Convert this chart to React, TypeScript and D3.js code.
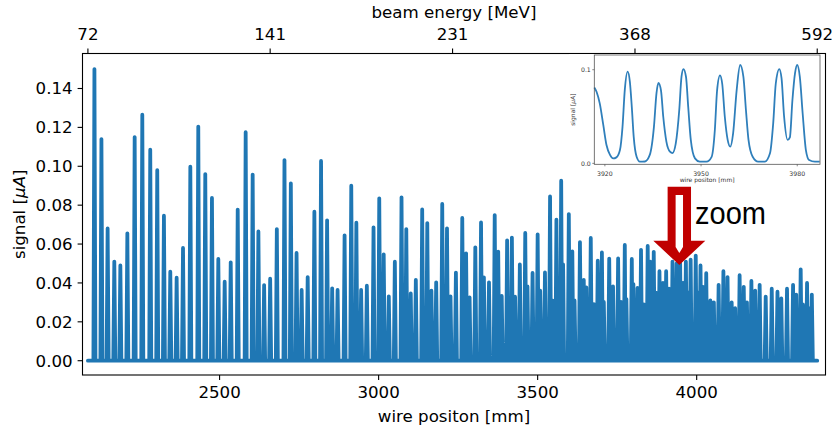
import React from 'react';
import * as d3 from 'd3';

// ---------- main chart data (wire position in mm, signal in µA) ----------
const peakPos = [
  2106.5, 2128.5, 2148, 2169, 2188, 2210, 2233, 2257, 2282, 2304, 2325, 2345, 2365, 2385, 2408, 2433, 2455, 2476, 2496, 2516,
  2535, 2557, 2582, 2604, 2622, 2640, 2659, 2680, 2704, 2724, 2742, 2758, 2777, 2798, 2819, 2838, 2854, 2871, 2893, 2914,
  2930, 2945, 2963, 2984, 3002, 3016, 3032, 3051, 3072, 3087, 3101, 3117, 3137, 3153, 3166, 3181, 3200, 3215, 3226, 3243,
  3263, 3275, 3286, 3304, 3322, 3331, 3347, 3365, 3376, 3387, 3404, 3419, 3429, 3444, 3461, 3468, 3484, 3500, 3508, 3523,
  3539, 3548, 3559, 3574, 3580, 3598, 3609, 3616, 3633, 3645, 3653, 3667, 3677, 3689, 3702, 3708, 3725, 3737, 3753, 3762,
  3774, 3779, 3796, 3801, 3814, 3825, 3834, 3846, 3854, 3865, 3872, 3883, 3894, 3904, 3913, 3924, 3937, 3948, 3957, 3966,
  3973, 3981, 3997, 4004, 4012, 4020, 4030, 4043, 4054, 4069, 4084, 4097, 4110, 4121, 4135, 4148, 4158, 4172, 4184, 4198,
  4217, 4236, 4254, 4266, 4284, 4303, 4313, 4327, 4334, 4347, 4357, 4362,
];
const peakSignal = [
  0.150, 0.114, 0.068, 0.051, 0.049, 0.0655, 0.115, 0.1265, 0.1085, 0.098, 0.0746, 0.0458, 0.0427, 0.058, 0.0998, 0.1204, 0.096, 0.0837, 0.0523, 0.0406,
  0.0506, 0.0777, 0.1175, 0.0957, 0.0665, 0.0389, 0.0422, 0.0677, 0.1032, 0.0912, 0.0554, 0.0364, 0.043, 0.0766, 0.1027, 0.0722, 0.0372, 0.0364, 0.0645, 0.090,
  0.071, 0.0364, 0.0386, 0.0686, 0.0835, 0.0547, 0.0331, 0.0509, 0.084, 0.0677, 0.0346, 0.0415, 0.0778, 0.0708, 0.036, 0.0403, 0.0806, 0.0681, 0.0331, 0.0453,
  0.0734, 0.0552, 0.0326, 0.0583, 0.0711, 0.0429, 0.0403, 0.0749, 0.0561, 0.0333, 0.0619, 0.0633, 0.0329, 0.0495, 0.0657, 0.0382, 0.0451, 0.065, 0.036, 0.0454,
  0.0845, 0.0309, 0.0725, 0.0926, 0.0495, 0.0754, 0.0562, 0.031, 0.061, 0.0415, 0.0377, 0.0631, 0.0291, 0.0514, 0.0557, 0.0302, 0.0525, 0.0382, 0.0526, 0.0302,
  0.0595, 0.0317, 0.0523, 0.0394, 0.0374, 0.057, 0.029, 0.059, 0.051, 0.056, 0.035, 0.046, 0.040, 0.046, 0.037, 0.051, 0.050, 0.050, 0.040, 0.051,
  0.035, 0.052, 0.054, 0.035, 0.049, 0.038, 0.045, 0.031, 0.030, 0.039, 0.046, 0.043, 0.030, 0.027, 0.044, 0.038, 0.030, 0.041, 0.036, 0.039,
  0.033, 0.037, 0.0355, 0.032, 0.037, 0.039, 0.034, 0.047, 0.029, 0.040, 0.027, 0.034,
];
const scanStart = 2086;
const scanEnd = 4379;

const xTicks = [2500, 3000, 3500, 4000];
const yTicks = [0, 0.02, 0.04, 0.06, 0.08, 0.1, 0.12, 0.14];
const topTickPos = [2086, 2659, 3232.5, 3806, 4379];
const topTickLabels = ['72', '141', '231', '368', '592'];

// ---------- inset data ----------
const insetPos = [
  3916.7, 3917.4, 3918.4, 3919.5, 3920.5, 3921.6, 3922.6, 3923.6, 3924.7, 3925.5, 3926.2, 3927.1, 3927.8, 3928.4, 3929.0,
  3929.9, 3930.9, 3932.5, 3934.0, 3935.3, 3936.1, 3936.7, 3937.5, 3938.2, 3939.2, 3940.3, 3941.1, 3942.1, 3943.2, 3943.9,
  3944.5, 3945.3, 3946.0, 3946.8, 3948.1, 3949.6, 3951.7, 3953.3, 3954.3, 3955.0, 3955.9, 3956.6, 3957.4, 3958.3, 3959.1,
  3960.0, 3961.1, 3962.2, 3963.2, 3964.0, 3964.8, 3966.1, 3967.8, 3969.9, 3971.5, 3972.5, 3973.3, 3974.4, 3975.1, 3975.9,
  3977.0, 3977.7, 3978.5, 3979.3, 3980.0, 3980.8, 3981.7, 3982.7, 3983.7, 3985.5, 3987.0,
];
const insetSignal = [
  0.081, 0.0765, 0.064, 0.041, 0.0196, 0.009, 0.0053, 0.0064, 0.0142, 0.039, 0.078, 0.098, 0.087, 0.060, 0.028,
  0.007, 0.0018, 0.002, 0.009, 0.039, 0.075, 0.086, 0.078, 0.050, 0.023, 0.0125, 0.011, 0.021, 0.057, 0.0925,
  0.1007, 0.0925, 0.060, 0.025, 0.0053, 0.0018, 0.0018, 0.007, 0.0356, 0.078, 0.094, 0.085, 0.050, 0.025, 0.0178,
  0.032, 0.078, 0.105, 0.0925, 0.057, 0.025, 0.007, 0.0018, 0.0018, 0.0107, 0.0427, 0.085, 0.1007, 0.091, 0.050,
  0.025, 0.0278, 0.0676, 0.096, 0.105, 0.0925, 0.053, 0.0142, 0.0036, 0.0018, 0.0018,
];
const insetXTicks = [3920, 3950, 3980];
const insetYTicks = [0, 0.1];

// annotation anchor (data coords)
const arrowTip = { pos: 3945.4, signal: 0.0492 };

const W = 832;
const H = 427;
const FONT = 'DejaVu Sans, sans-serif';
const FS = 16.67;
const BLUE = '#1f77b4';

export default function App() {
  const box = { left: 82.5, right: 825.5, top: 53.5, bottom: 375 };
  const x = d3.scaleLinear().domain([2069, 4405]).range([box.left, box.right]);
  const y = d3.scaleLinear().domain([-0.00735, 0.158]).range([box.bottom, box.top]);

  // build spike polyline from peaks
  const FOOT = 3.2;
  const pts: [number, number][] = [[scanStart, 0]];
  peakPos.forEach((p, i) => {
    const prev = i > 0 ? peakPos[i - 1] : scanStart;
    const next = i < peakPos.length - 1 ? peakPos[i + 1] : scanEnd;
    const l = Math.min(FOOT, (p - prev) / 2);
    const r = Math.min(FOOT, (next - p) / 2);
    pts.push([p - l, 0], [p, peakSignal[i]], [p + r, 0]);
  });
  pts.push([scanEnd, 0]);
  const line = d3.line<[number, number]>().x((d) => x(d[0])).y((d) => y(d[1]));

  // inset
  const ib = { left: 594.3, right: 820, top: 55, bottom: 164.3 };
  const ix = d3.scaleLinear().domain([3916.7, 3987.1]).range([ib.left, ib.right]);
  const iy = d3.scaleLinear().domain([-0.001, 0.1157]).range([ib.bottom, ib.top]);
  const iline = d3
    .line<number>()
    .x((_, i) => ix(insetPos[i]))
    .y((d) => iy(d))
    .curve(d3.curveMonotoneX);

  const tx = x(arrowTip.pos);
  const ty = y(arrowTip.signal);
  const outer = [
    [tx - 11.7, ty - 78.3], [tx + 11.7, ty - 78.3], [tx + 11.7, ty - 24.3], [tx + 26, ty - 24.3],
    [tx, ty], [tx - 26, ty - 24.3], [tx - 11.7, ty - 24.3],
  ];
  const inner = [
    [tx - 3.7, ty - 70], [tx + 3.7, ty - 70], [tx + 3.7, ty - 18], [tx, ty - 12], [tx - 3.7, ty - 18],
  ];
  const poly = (p: number[][]) => p.map((q) => q.join(',')).join(' ');

  return (
    <svg width={W} height={H} style={{ position: 'absolute', left: 0, top: 0, background: '#fff' }} fontFamily={FONT}>
      <rect x={0} y={0} width={W} height={H} fill="#fff" />
      <defs>
        <clipPath id="plotclip">
          <rect x={box.left} y={box.top} width={box.right - box.left} height={box.bottom - box.top} />
        </clipPath>
      </defs>
      {/* data */}
      <path
        d={line(pts) || ''}
        fill="none"
        stroke={BLUE}
        strokeWidth={3.8}
        strokeLinejoin="round"
        strokeLinecap="round"
        clipPath="url(#plotclip)"
      />
      {/* spines */}
      <rect x={box.left} y={box.top} width={box.right - box.left} height={box.bottom - box.top} fill="none" stroke="#000" strokeWidth={1.1} />
      {/* bottom ticks */}
      {xTicks.map((t) => (
        <g key={'xt' + t}>
          <line x1={x(t)} x2={x(t)} y1={box.bottom} y2={box.bottom + 4.9} stroke="#000" strokeWidth={1.1} />
          <text x={x(t)} y={397.5} fontSize={FS} textAnchor="middle" fill="#000">{t}</text>
        </g>
      ))}
      <text x={(box.left + box.right) / 2} y={422} fontSize={FS} textAnchor="middle" fill="#000">wire positon [mm]</text>
      {/* left ticks */}
      {yTicks.map((t) => (
        <g key={'yt' + t}>
          <line x1={box.left - 4.9} x2={box.left} y1={y(t)} y2={y(t)} stroke="#000" strokeWidth={1.1} />
          <text x={box.left - 9.8} y={y(t) + 6} fontSize={FS} textAnchor="end" fill="#000">{t.toFixed(2)}</text>
        </g>
      ))}
      <text transform={`translate(25,${(box.top + box.bottom) / 2}) rotate(-90)`} fontSize={FS} textAnchor="middle" fill="#000">
        signal [<tspan fontStyle="italic">μA</tspan>]
      </text>
      {/* top ticks */}
      {topTickPos.map((t, i) => (
        <g key={'tt' + i}>
          <line x1={x(t)} x2={x(t)} y1={box.top} y2={box.top - 4.9} stroke="#000" strokeWidth={1.1} />
          <text x={x(t)} y={39.5} fontSize={FS} textAnchor="middle" fill="#000">{topTickLabels[i]}</text>
        </g>
      ))}
      <text x={(box.left + box.right) / 2} y={18} fontSize={FS} textAnchor="middle" fill="#000">beam energy [MeV]</text>

      {/* inset picture */}
      <g>
        <rect x={569} y={54.2} width={255} height={133} fill="#fff" />
        <path d={iline(insetSignal) || ''} fill="none" stroke="#2f7fbb" strokeWidth={1.8} />
        <rect x={ib.left} y={ib.top} width={ib.right - ib.left} height={ib.bottom - ib.top} fill="none" stroke="#555" strokeWidth={0.8} />
        {insetXTicks.map((t) => (
          <g key={'ixt' + t}>
            <line x1={ix(t)} x2={ix(t)} y1={ib.bottom} y2={ib.bottom + 2} stroke="#555" strokeWidth={0.7} />
            <text x={ix(t)} y={175.7} fontSize={6.2} textAnchor="middle" fill="#333">{t}</text>
          </g>
        ))}
        {insetYTicks.map((t) => (
          <g key={'iyt' + t}>
            <line x1={ib.left - 2} x2={ib.left} y1={iy(t)} y2={iy(t)} stroke="#555" strokeWidth={0.7} />
            <text x={ib.left - 3.5} y={iy(t) + 2.2} fontSize={6.2} textAnchor="end" fill="#333">{t.toFixed(1)}</text>
          </g>
        ))}
        <text x={(ib.left + ib.right) / 2} y={181.8} fontSize={6} textAnchor="middle" fill="#333">wire positon [mm]</text>
        <text transform={`translate(575,${(ib.top + ib.bottom) / 2}) rotate(-90)`} fontSize={6} textAnchor="middle" fill="#333">
          signal [<tspan fontStyle="italic">μA</tspan>]
        </text>
      </g>

      {/* zoom annotation */}
      <polygon points={poly(outer)} fill="#c00000" />
      <polygon points={poly(inner)} fill="#fff" />
      <text x={tx + 15.7} y={ty - 41} fontSize={32} fontFamily="Liberation Sans, Arial, sans-serif" fill="#000" textLength={71} lengthAdjust="spacingAndGlyphs">zoom</text>
    </svg>
  );
}
